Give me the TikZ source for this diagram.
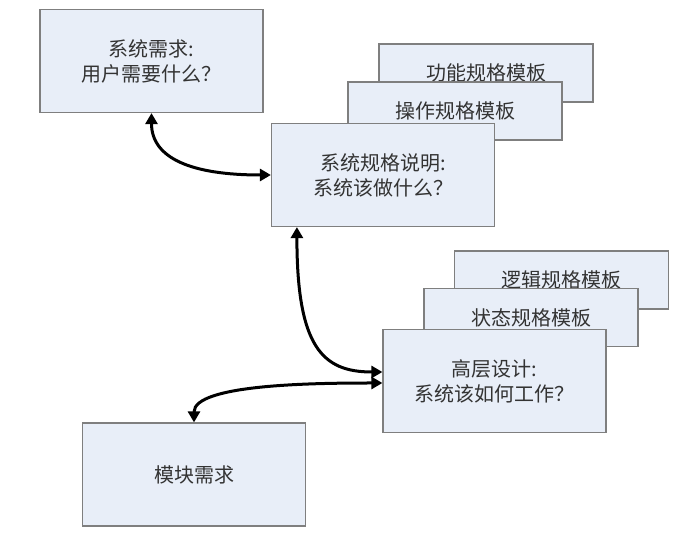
\documentclass[tikz,border=0pt]{standalone}
\usepackage{fontspec}
\setmainfont{Noto Sans CJK SC}
\usetikzlibrary{
  arrows.meta,
  calc
}
\definecolor{boxfill}{HTML}{E8EEF8}
\definecolor{boxline}{HTML}{7F7F7F}
\definecolor{ink}{HTML}{333333}

\begin{document}
\begin{tikzpicture}[
  x=1pt, y=1pt,
  stagebox/.style={draw=boxline, fill=boxfill, line width=1.2pt, inner sep=0pt,
                   minimum width=223pt, minimum height=103pt,
                   align=center, text=ink, font=\fontsize{20}{25}\selectfont},
  tmpl/.style={stagebox, minimum width=214pt, minimum height=58pt},
  arr/.style={{Triangle[length=11pt,width=12pt]}-{Triangle[length=11pt,width=12pt]}, line width=3pt}
]
  \useasboundingbox (0,0) rectangle (699,535);

  % Requirements
  \node[stagebox] (req) at (151.5, 474) {系统需求:\\用户需要什么？};

  % Specification with its templates
  \node[tmpl] (functmpl) at (486, 462) {功能规格模板};
  \node[tmpl] (optmpl) at (455, 424) {操作规格模板};
  \node[stagebox] (spec) at (383, 360) {系统规格说明:\\系统该做什么？};

  % High level design with its templates
  \node[tmpl] (logictmpl) at (561.5, 255) {逻辑规格模板};
  \node[tmpl] (statetmpl) at (531, 217.5) {状态规格模板};
  \node[stagebox] (design) at (494.5, 154) {高层设计:\\系统该如何工作？};

  % Module requirements
  \node[stagebox] (module) at (194, 60.5) {模块需求};

  % Links
  \draw[arr] (req.south) to[out=-90, in=180, out distance=45pt, in distance=80pt] (spec.west);
  \draw[arr] ([xshift=26pt]spec.south west) to[out=-90, in=180, out distance=120pt, in distance=60pt] ([yshift=9pt]design.west);
  \draw[arr] (module.north) to[out=90, in=180, out distance=38pt, in distance=70pt] ([yshift=-2pt]design.west);
\end{tikzpicture}
\end{document}
